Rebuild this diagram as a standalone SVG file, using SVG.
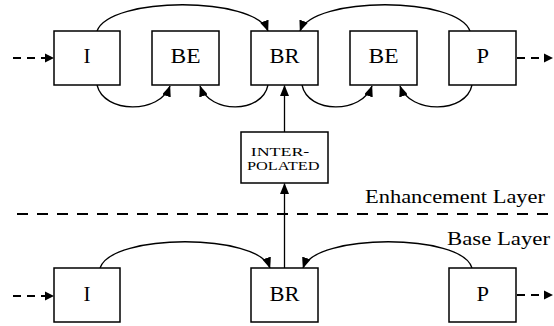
<svg xmlns="http://www.w3.org/2000/svg" width="554" height="326" viewBox="0 0 554 326">
<style>
.box{fill:#fff;stroke:#000;stroke-width:1.5}
.lbl{font-family:"Liberation Serif","Times New Roman",serif;font-size:20px;fill:#000}
.small{font-family:"Liberation Serif","Times New Roman",serif;font-size:12px;fill:#000}
.layer{font-family:"Liberation Serif","Times New Roman",serif;font-size:19px;fill:#000}
.arc{fill:none;stroke:#000;stroke-width:1.3}
.dash{fill:none;stroke:#000;stroke-width:1.8;stroke-dasharray:8 6}
</style>
<defs>
<marker id="ah" markerWidth="11" markerHeight="9" refX="10.5" refY="4.5" orient="auto" markerUnits="userSpaceOnUse">
<path d="M0,0 L11,4.5 L0,9 z" fill="#000"/>
</marker>
</defs>

<g id="connectors">
<path class="arc" d="M97,31 C110,-4 255,-4 268,31" marker-end="url(#ah)"/>
<path class="arc" d="M470,31 C457,-4 313,-4 300,31" marker-end="url(#ah)"/>
<path class="arc" d="M97,85 C104,114 160,114 170,86" marker-end="url(#ah)"/>
<path class="arc" d="M268,85 C262,114 210,114 200,86" marker-end="url(#ah)"/>
<path class="arc" d="M302,85 C308,114 362,114 372,86" marker-end="url(#ah)"/>
<path class="arc" d="M472,85 C466,114 410,114 400,86" marker-end="url(#ah)"/>
<path class="arc" d="M100,268 C112,233 258,233 270,268" marker-end="url(#ah)"/>
<path class="arc" d="M472,268 C462,233 315,233 303,268" marker-end="url(#ah)"/>
<path class="arc" d="M284.5,268 L284.5,183.5" marker-end="url(#ah)"/>
<path class="arc" d="M284.5,132 L284.5,85.5" marker-end="url(#ah)"/>
<path class="dash" d="M13,58 L46,58"/>
<path d="M45,53.5 L54,58 L45,62.5 z" fill="#000"/>
<path class="dash" d="M517,58 L546,58"/>
<path d="M544,53.5 L553,58 L544,62.5 z" fill="#000"/>
<path class="dash" d="M13,296 L46,296"/>
<path d="M45,291.5 L54,296 L45,300.5 z" fill="#000"/>
<path class="dash" d="M517,295 L546,295"/>
<path d="M544,290.5 L553,295 L544,299.5 z" fill="#000"/>
</g>

<g id="layer-divider">
<line x1="17" y1="214" x2="554" y2="214" stroke="#000" stroke-width="1.8" stroke-dasharray="11 9"/>
<text class="layer" x="365" y="203" textLength="180" lengthAdjust="spacingAndGlyphs">Enhancement Layer</text>
<text class="layer" x="447" y="245" textLength="103" lengthAdjust="spacingAndGlyphs">Base Layer</text>
</g>

<g id="enh-I"><rect class="box" x="54" y="31" width="66" height="54"/><text class="lbl" x="83.5" y="63" textLength="7" lengthAdjust="spacingAndGlyphs">I</text></g>
<g id="enh-BE1"><rect class="box" x="152" y="31" width="67" height="54"/><text class="lbl" x="170.5" y="63" textLength="30" lengthAdjust="spacingAndGlyphs">BE</text></g>
<g id="enh-BR"><rect class="box" x="251" y="31" width="67" height="54"/><text class="lbl" x="269.5" y="63" textLength="30" lengthAdjust="spacingAndGlyphs">BR</text></g>
<g id="enh-BE2"><rect class="box" x="350" y="31" width="67" height="54"/><text class="lbl" x="368.5" y="63" textLength="30" lengthAdjust="spacingAndGlyphs">BE</text></g>
<g id="enh-P"><rect class="box" x="449" y="31" width="67" height="54"/><text class="lbl" x="476.5" y="63" textLength="12.5" lengthAdjust="spacingAndGlyphs">P</text></g>

<g id="interpolated"><rect class="box" x="241" y="132" width="87" height="51"/>
<text class="small" x="250.7" y="156" textLength="58.6" lengthAdjust="spacingAndGlyphs">INTER-</text>
<text class="small" x="247" y="170" textLength="72.5" lengthAdjust="spacingAndGlyphs">POLATED</text></g>

<g id="base-I"><rect class="box" x="54" y="268" width="66" height="54"/><text class="lbl" x="83.5" y="301" textLength="7" lengthAdjust="spacingAndGlyphs">I</text></g>
<g id="base-BR"><rect class="box" x="251" y="268" width="67" height="54"/><text class="lbl" x="269.5" y="301" textLength="30" lengthAdjust="spacingAndGlyphs">BR</text></g>
<g id="base-P"><rect class="box" x="449" y="268" width="67" height="54"/><text class="lbl" x="476.5" y="301" textLength="12.5" lengthAdjust="spacingAndGlyphs">P</text></g>
</svg>
